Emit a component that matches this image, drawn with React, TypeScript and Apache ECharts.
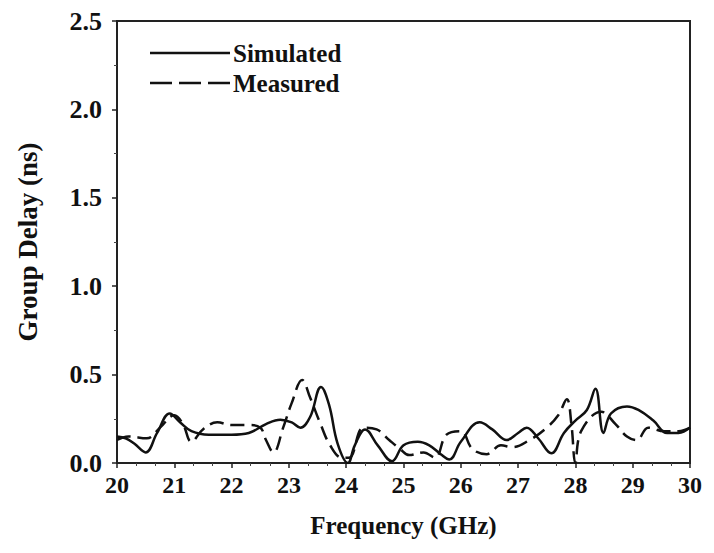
import React, { useEffect, useRef } from "react";
import * as echarts from "echarts";

const simFreq = [20.0, 20.15, 20.3, 20.5, 20.7, 20.92, 21.1, 21.3, 21.6, 22.0, 22.3, 22.6, 22.85, 23.05, 23.2, 23.37, 23.56, 23.7, 23.85, 24.03, 24.15, 24.33, 24.55, 24.8, 25.0, 25.25, 25.45, 25.65, 25.8, 26.0, 26.33, 26.55, 26.8, 27.0, 27.15, 27.35, 27.58, 27.8, 28.0, 28.2, 28.35, 28.49, 28.62, 28.9, 29.1, 29.36, 29.6, 29.8, 30.0];
const simDelay = [0.15, 0.14, 0.11, 0.06, 0.17, 0.28, 0.23, 0.18, 0.16, 0.16, 0.17, 0.22, 0.245, 0.23, 0.2, 0.26, 0.43, 0.33, 0.11, 0.0, 0.1, 0.19, 0.1, 0.01, 0.1, 0.12, 0.1, 0.05, 0.02, 0.12, 0.23, 0.19, 0.13, 0.17, 0.2, 0.14, 0.055, 0.17, 0.24, 0.3, 0.42, 0.17, 0.28, 0.32, 0.3, 0.24, 0.17, 0.17, 0.2];

const measFreq = [20.0, 20.2, 20.52, 20.75, 21.0, 21.15, 21.3, 21.5, 21.75, 22.0, 22.3, 22.5, 22.6, 22.73, 22.9, 23.05, 23.23, 23.37, 23.54, 23.72, 23.93, 24.05, 24.3, 24.53, 24.75, 24.94, 25.1, 25.35, 25.55, 25.75, 26.0, 26.2, 26.45, 26.7, 26.9, 27.2, 27.5, 27.7, 27.85, 27.93, 28.0, 28.1, 28.45, 28.7, 28.9, 29.07, 29.27, 29.55, 29.8, 30.0];
const measDelay = [0.13, 0.15, 0.14, 0.2, 0.27, 0.22, 0.12, 0.19, 0.23, 0.215, 0.215, 0.2, 0.13, 0.06, 0.2, 0.34, 0.47, 0.37, 0.23, 0.1, 0.03, 0.03, 0.2, 0.19, 0.13, 0.08, 0.045, 0.06, 0.03, 0.16, 0.18, 0.08, 0.05, 0.1, 0.09, 0.13, 0.2, 0.27, 0.36, 0.22, 0.0, 0.18, 0.29, 0.22, 0.15, 0.13, 0.2, 0.18, 0.18, 0.2];

const seriesNames = ["Simulated", "Measured"];
const xAxisTitle = "Frequency (GHz)";
const yAxisTitle = "Group Delay (ns)";

const FONT = "'Times New Roman', 'Liberation Serif', serif";

export default function App() {
  const ref = useRef<HTMLDivElement>(null);
  useEffect(() => {
    if (!ref.current) return;
    const chart = echarts.init(ref.current, undefined, { renderer: "svg" });
    const simData = simFreq.map((f, i) => [f, simDelay[i]]);
    const measData = measFreq.map((f, i) => [f, measDelay[i]]);
    const legendText = { fontFamily: FONT, fontWeight: "bold", fontSize: 25, fill: "#111", verticalAlign: "middle", align: "left" };
    chart.setOption({
      animation: false,
      backgroundColor: "#ffffff",
      grid: {
        left: 117,
        right: 24,
        top: 21,
        bottom: 90,
        show: true,
        borderColor: "#222",
        borderWidth: 2,
        backgroundColor: "transparent",
      },
      graphic: [
        { type: "line", shape: { x1: 150, y1: 53, x2: 230, y2: 53 }, style: { stroke: "#111", lineWidth: 2.5 } },
        { type: "text", x: 233, y: 53, style: { text: seriesNames[0], ...legendText } },
        { type: "line", shape: { x1: 150, y1: 83, x2: 230, y2: 83 }, style: { stroke: "#111", lineWidth: 2.5, lineDash: [22, 7] } },
        { type: "text", x: 233, y: 83, style: { text: seriesNames[1], ...legendText } },
      ],
      xAxis: {
        type: "value",
        min: 20,
        max: 30,
        interval: 1,
        name: xAxisTitle,
        nameLocation: "middle",
        nameGap: 50,
        nameTextStyle: { fontFamily: FONT, fontWeight: "bold", fontSize: 25, color: "#111" },
        axisLine: { show: true, lineStyle: { color: "#222", width: 2 } },
        axisTick: { show: true, inside: false, length: 5, lineStyle: { color: "#222", width: 1.5 } },
        minorTick: { show: true, splitNumber: 3, length: 3, lineStyle: { color: "#444", width: 1 } },
        splitLine: { show: false },
        axisLabel: { fontFamily: FONT, fontWeight: "bold", fontSize: 24, color: "#111", margin: 10 },
      },
      yAxis: {
        type: "value",
        min: 0,
        max: 2.5,
        interval: 0.5,
        name: yAxisTitle,
        nameLocation: "middle",
        nameGap: 76,
        nameTextStyle: { fontFamily: FONT, fontWeight: "bold", fontSize: 27, color: "#111" },
        axisLine: { show: true, lineStyle: { color: "#222", width: 2 } },
        axisTick: { show: true, inside: false, length: 5, lineStyle: { color: "#222", width: 1.5 } },
        minorTick: { show: true, splitNumber: 2, length: 3, lineStyle: { color: "#444", width: 1 } },
        splitLine: { show: false },
        axisLabel: {
          fontFamily: FONT,
          fontWeight: "bold",
          fontSize: 26,
          color: "#111",
          margin: 15,
          formatter: (v: number) => v.toFixed(1),
        },
      },
      series: [
        {
          name: seriesNames[0],
          type: "line",
          data: simData,
          smooth: 0.4,
          symbol: "none",
          showSymbol: false,
          clip: true,
          lineStyle: { color: "#111", width: 2.5, type: "solid" },
        },
        {
          name: seriesNames[1],
          type: "line",
          data: measData,
          smooth: 0.4,
          symbol: "none",
          showSymbol: false,
          clip: true,
          lineStyle: { color: "#111", width: 2.5, type: [14, 7] },
        },
      ],
    });
    return () => chart.dispose();
  }, []);
  return (
    <div
      ref={ref}
      style={{ position: "absolute", left: 0, top: 0, width: 714, height: 553, background: "#fff" }}
    />
  );
}
